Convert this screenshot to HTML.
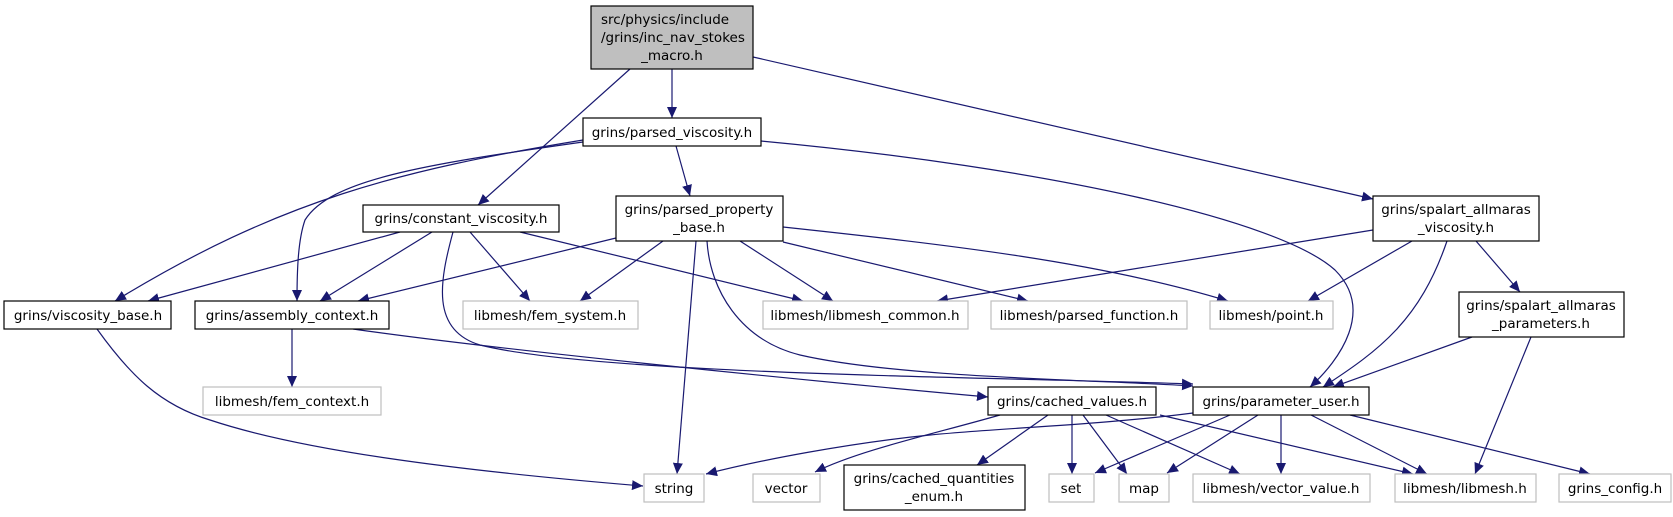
<!DOCTYPE html>
<html><head><meta charset="utf-8"><style>
html,body{margin:0;padding:0;background:#fff;}
svg{display:block}
text{font-family:"DejaVu Sans","Liberation Sans",sans-serif;font-size:13.5px;fill:#000}
.e{fill:none;stroke:#191970;stroke-width:1.2}
.n{fill:#fff;stroke:#000;stroke-width:1.2}
.g{fill:#fff;stroke:#bfbfbf;stroke-width:1.2}
</style></head><body>
<svg width="1673" height="517" viewBox="0 0 1673 517" xmlns="http://www.w3.org/2000/svg">
<defs><marker id="a" markerUnits="userSpaceOnUse" markerWidth="12" markerHeight="10" refX="11" refY="5" orient="auto"><path d="M0,0 L11,5 L0,10 Z" fill="#191970"/></marker></defs>
<g class="e" marker-end="url(#a)">
<path d="M672,69 L672,118"/>
<path d="M630,69 L478,205"/>
<path d="M753,57 L1373,199"/>
<path d="M676,146 L690,196"/>
<path d="M583,140 C400,170 280,200 115,301"/>
<path d="M583,142 C420,165 330,180 305,220 C298,240 297,270 297,301"/>
<path d="M761,141 C1050,168 1280,220 1335,270 C1375,310 1340,360 1310,387"/>
<path d="M400,232 L148,301"/>
<path d="M432,232 L320,301"/>
<path d="M470,232 L530,301"/>
<path d="M520,232 L803,301"/>
<path d="M453,232 C440,280 430,330 480,345 C600,375 1000,377 1193,384"/>
<path d="M353,329 C500,350 800,380 988,397"/>
<path d="M292,329 L292,387"/>
<path d="M616,238 L358,301"/>
<path d="M663,241 L580,301"/>
<path d="M696,241 L677,474"/>
<path d="M707,241 C710,290 740,340 800,355 C900,378 1100,380 1193,386"/>
<path d="M740,241 L833,301"/>
<path d="M783,242 L1028,301"/>
<path d="M783,227 C950,245 1100,262 1228,301"/>
<path d="M1373,230 L937,301"/>
<path d="M1412,241 L1308,301"/>
<path d="M1447,241 C1420,320 1380,350 1323,387"/>
<path d="M1476,241 L1520,292"/>
<path d="M1472,337 L1333,387"/>
<path d="M1531,337 L1475,474"/>
<path d="M1000,415 C930,435 860,450 815,472"/>
<path d="M1048,415 L977,465"/>
<path d="M1072,415 L1072,474"/>
<path d="M1083,415 L1127,474"/>
<path d="M1106,415 L1240,474"/>
<path d="M1160,415 L1413,474"/>
<path d="M1193,413 C1100,425 1000,428 930,435 C850,443 760,460 706,474"/>
<path d="M1230,415 L1095,473"/>
<path d="M1258,415 L1167,473"/>
<path d="M1281,415 L1281,474"/>
<path d="M1311,415 L1427,474"/>
<path d="M1350,415 L1590,474"/>
<path d="M97,329 C130,375 160,405 210,420 C300,450 450,470 643,486"/>
</g>
<rect x="591" y="6" width="162" height="63" fill="#bfbfbf" stroke="#000" stroke-width="1.2"/>
<text x="601" y="24">src/physics/include</text>
<text x="601" y="42">/grins/inc_nav_stokes</text>
<text x="672" y="60" text-anchor="middle">_macro.h</text>
<g text-anchor="middle">
<rect class="n" x="583" y="118" width="178" height="28"/><text x="672" y="137">grins/parsed_viscosity.h</text>
<rect class="n" x="363" y="205" width="196" height="27"/><text x="461" y="223">grins/constant_viscosity.h</text>
<rect class="n" x="616" y="196" width="167" height="45"/><text x="699" y="214">grins/parsed_property</text><text x="699" y="232">_base.h</text>
<rect class="n" x="1373" y="196" width="166" height="45"/><text x="1456" y="214">grins/spalart_allmaras</text><text x="1456" y="232">_viscosity.h</text>
<rect class="n" x="4" y="301" width="167" height="28"/><text x="88" y="320">grins/viscosity_base.h</text>
<rect class="n" x="195" y="301" width="194" height="28"/><text x="292" y="320">grins/assembly_context.h</text>
<rect class="g" x="463" y="301" width="175" height="28"/><text x="550" y="320">libmesh/fem_system.h</text>
<rect class="g" x="763" y="301" width="205" height="28"/><text x="865" y="320">libmesh/libmesh_common.h</text>
<rect class="g" x="991" y="301" width="196" height="28"/><text x="1089" y="320">libmesh/parsed_function.h</text>
<rect class="g" x="1210" y="301" width="123" height="28"/><text x="1271" y="320">libmesh/point.h</text>
<rect class="n" x="1459" y="292" width="165" height="45"/><text x="1541" y="310">grins/spalart_allmaras</text><text x="1541" y="328">_parameters.h</text>
<rect class="g" x="203" y="387" width="178" height="28"/><text x="292" y="406">libmesh/fem_context.h</text>
<rect class="n" x="988" y="387" width="168" height="28"/><text x="1072" y="406">grins/cached_values.h</text>
<rect class="n" x="1193" y="387" width="176" height="28"/><text x="1281" y="406">grins/parameter_user.h</text>
<rect class="g" x="644" y="474" width="60" height="28"/><text x="674" y="493">string</text>
<rect class="g" x="753" y="474" width="67" height="28"/><text x="786" y="493">vector</text>
<rect class="n" x="844" y="465" width="181" height="45"/><text x="934" y="483">grins/cached_quantities</text><text x="934" y="501">_enum.h</text>
<rect class="g" x="1049" y="474" width="45" height="28"/><text x="1071" y="493">set</text>
<rect class="g" x="1119" y="474" width="50" height="28"/><text x="1144" y="493">map</text>
<rect class="g" x="1193" y="474" width="177" height="28"/><text x="1281" y="493">libmesh/vector_value.h</text>
<rect class="g" x="1395" y="474" width="141" height="28"/><text x="1465" y="493">libmesh/libmesh.h</text>
<rect class="g" x="1559" y="474" width="112" height="28"/><text x="1615" y="493">grins_config.h</text>
</g>
</svg>
</body></html>
